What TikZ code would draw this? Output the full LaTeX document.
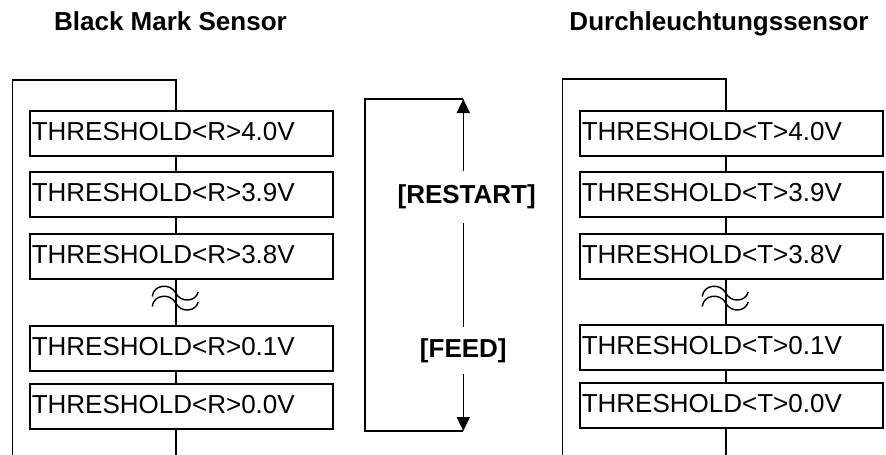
\documentclass[tikz,border=0pt]{standalone}
\usepackage{fontspec}
\setmainfont{Liberation Sans}
\usetikzlibrary{arrows.meta}
\begin{document}
\begin{tikzpicture}[x=1pt,y=-1pt,
  line width=1.6pt,
  box/.style={draw, anchor=north west, minimum width=303pt, minimum height=45pt,
    inner xsep=2pt, inner ysep=0pt, text width=299pt, align=left,
    text depth=4.5pt, font=\fontsize{26}{30}\selectfont},
  title/.style={anchor=base, font=\bfseries\fontsize{26}{30}\selectfont},
  keylabel/.style={inner sep=0pt, font=\bfseries\fontsize{26}{30}\selectfont},
  tip/.style={-{Triangle[length=14pt,width=13pt]}},
  squig/.style={line width=1.4pt}
]
\useasboundingbox (0,0) rectangle (886,455);

% titles
\node[title] (t1) at (170.5,30) {Black Mark Sensor};
\node[title] (t2) at (719,30) {Durchleuchtungssensor};

% left column
\coordinate (lx) at (175.7,0);
\coordinate (ltop) at (175.7,80);
\coordinate (lleft) at (12.5,80);
\coordinate (lbotl) at (12.5,455);
\coordinate (lbotr) at (175.7,455);
\node[box] (L1) at (29,110) {THRESHOLD<R>4.0V};
\node[box] (L2) at (29,171) {THRESHOLD<R>3.9V};
\node[box] (L3) at (29,233) {THRESHOLD<R>3.8V};
\node[box] (L4) at (29,325) {THRESHOLD<R>0.1V};
\node[box] (L5) at (29,383) {THRESHOLD<R>0.0V};
\draw (L1.north -| lx) -- (ltop) -- (lleft) -- (lbotl);
\draw (L1.south -| lx) -- (L2.north -| lx);
\draw (L2.south -| lx) -- (L3.north -| lx);
\draw (L3.south -| lx) -- (L4.north -| lx);
\draw (L4.south -| lx) -- (L5.north -| lx);
\draw (L5.south -| lx) -- (lbotr);
\foreach \dy in {293,303}{
  \draw[squig,shift={(175.7,\dy)}] (-23.5,3.5) .. controls (-22,-9) and (-5,-10) .. (0,0)
     .. controls (5,10) and (20,9) .. (22.5,-1);
}

% right column
\coordinate (rx) at (725.7,0);
\coordinate (rtop) at (725.7,79);
\coordinate (rleft) at (562.3,79);
\coordinate (rbotl) at (562.3,455);
\coordinate (rbotr) at (725.7,455);
\node[box] (R1) at (579,110) {THRESHOLD<T>4.0V};
\node[box] (R2) at (579,171) {THRESHOLD<T>3.9V};
\node[box] (R3) at (579,233) {THRESHOLD<T>3.8V};
\node[box] (R4) at (579,324) {THRESHOLD<T>0.1V};
\node[box] (R5) at (579,382) {THRESHOLD<T>0.0V};
\draw (R1.north -| rx) -- (rtop) -- (rleft) -- (rbotl);
\draw (R1.south -| rx) -- (R2.north -| rx);
\draw (R2.south -| rx) -- (R3.north -| rx);
\draw (R3.south -| rx) -- (R4.north -| rx);
\draw (R4.south -| rx) -- (R5.north -| rx);
\draw (R5.south -| rx) -- (rbotr);
\foreach \dy in {293,303}{
  \draw[squig,shift={(725.7,\dy)}] (-23.5,3.5) .. controls (-22,-9) and (-5,-10) .. (0,0)
     .. controls (5,10) and (20,9) .. (22.5,-1);
}

% middle loop
\coordinate (mt) at (463.3,99);
\coordinate (mb) at (463.3,431);
\coordinate (mtl) at (365,99);
\coordinate (mbl) at (365,431);
\node[keylabel, minimum height=50pt] (restart) at (466.7,197) {[RESTART]};
\node[keylabel, minimum height=46pt] (feed) at (463.3,350.5) {[FEED]};
\draw (mt) -- (mtl) -- (mbl) -- (mb);
\draw[tip] (mt |- restart.north) -- (mt);
\draw (mt |- restart.south) -- (mt |- feed.north);
\draw[tip] (mt |- feed.south) -- (mb);
\end{tikzpicture}
\end{document}
